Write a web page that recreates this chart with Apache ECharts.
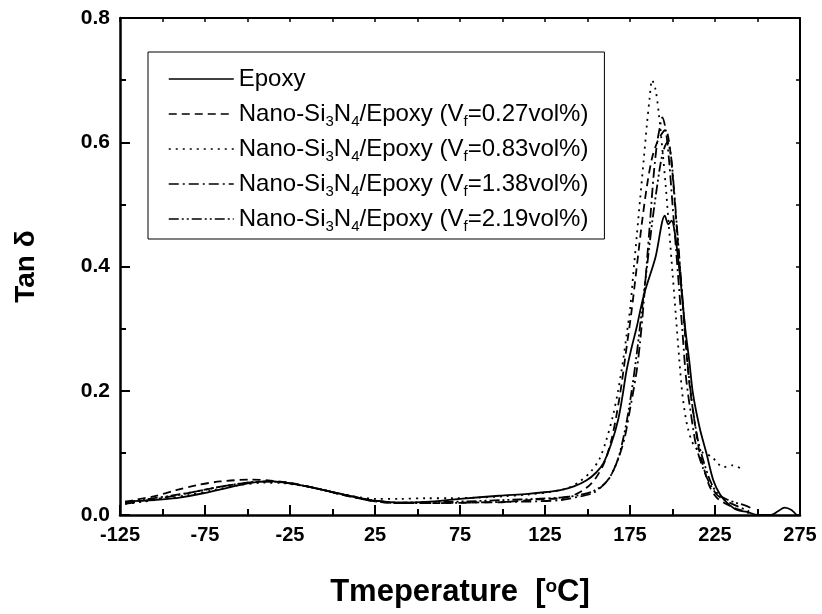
<!DOCTYPE html>
<html>
<head>
<meta charset="utf-8">
<script src="https://cdn.jsdelivr.net/npm/echarts@6/dist/echarts.min.js"></script>
<style>html,body{margin:0;padding:0;background:#fff}#c{width:822px;height:614px}</style>
</head>
<body>
<div id="c"></div>
<script>
var seriesNames = ['Epoxy','Nano-Si3N4/Epoxy (Vf=0.27vol%)','Nano-Si3N4/Epoxy (Vf=0.83vol%)','Nano-Si3N4/Epoxy (Vf=1.38vol%)','Nano-Si3N4/Epoxy (Vf=2.19vol%)'];
var richNames = ['Epoxy','Nano-Si{sub|3}N{sub|4}/Epoxy (V{sub|f}=0.27vol%)','Nano-Si{sub|3}N{sub|4}/Epoxy (V{sub|f}=0.83vol%)','Nano-Si{sub|3}N{sub|4}/Epoxy (V{sub|f}=1.38vol%)','Nano-Si{sub|3}N{sub|4}/Epoxy (V{sub|f}=2.19vol%)'];
var xTicks = [-125,-75,-25,25,75,125,175,225,275];
var yTicks = [0.0,0.2,0.4,0.6,0.8];

var epoxy = [[-122,0.022],[-110,0.023],[-100,0.025],[-90,0.028],[-76,0.035],[-60,0.045],[-45,0.053],[-35,0.054],[-25,0.051],[-15,0.046],[-5,0.040],[5,0.034],[15,0.028],[25,0.023],[40,0.020],[55,0.021],[75,0.026],[98,0.031],[115,0.034],[126,0.037],[134,0.040],[142,0.046],[149.5,0.056],[155,0.068],[159.3,0.083],[164,0.115],[168,0.153],[170.5,0.19],[173,0.233],[176,0.27],[179,0.303],[181.5,0.335],[184,0.362],[190,0.415],[195.5,0.482],[197.5,0.468],[199.5,0.474],[201.5,0.452],[203,0.42],[205,0.37],[207.5,0.30],[210,0.245],[212,0.196],[216,0.14],[220,0.099],[224,0.056],[228,0.033],[232,0.020],[238,0.008],[244,0.005],[250,0.0],[258,0.0],[262,0.006],[266,0.012],[270,0.008],[273,0.0]];
var vf027 = [[-122,0.020],[-115,0.025],[-105,0.030],[-92,0.040],[-80,0.048],[-66,0.054],[-48,0.057],[-35,0.055],[-25,0.052],[-15,0.046],[-5,0.040],[5,0.033],[15,0.027],[25,0.022],[40,0.019],[60,0.019],[80,0.020],[102,0.021],[120,0.025],[134,0.027],[142,0.032],[150,0.045],[155,0.060],[160,0.085],[164,0.120],[167,0.160],[170,0.210],[173,0.270],[176,0.330],[179,0.400],[182,0.470],[185,0.530],[188,0.575],[191,0.600],[194,0.615],[196,0.620],[198,0.600],[200,0.550],[202,0.480],[204,0.410],[206,0.340],[208,0.270],[210,0.210],[213,0.150],[216,0.100],[219,0.070],[222,0.045],[226,0.028],[230,0.020],[236,0.012],[242,0.006],[245,0.003]];
var vf083 = [[-122,0.018],[-110,0.022],[-100,0.026],[-85,0.032],[-70,0.040],[-55,0.048],[-40,0.052],[-28,0.051],[-15,0.046],[-5,0.040],[5,0.034],[15,0.029],[25,0.026],[40,0.026],[55,0.027],[70,0.027],[85,0.028],[100,0.030],[115,0.033],[128,0.037],[138,0.043],[146,0.055],[152,0.070],[157,0.090],[161,0.120],[165,0.160],[168,0.200],[171,0.250],[173,0.290],[175,0.330],[177,0.390],[179,0.450],[181,0.510],[183,0.570],[185,0.630],[186.5,0.670],[188,0.700],[190,0.685],[192,0.645],[194,0.590],[196,0.530],[198,0.460],[200,0.390],[202,0.320],[204,0.250],[206,0.190],[209,0.140],[213,0.110],[218,0.100],[223,0.094],[227,0.082],[230,0.077],[235,0.080],[241,0.074]];
var vf138 = [[-122,0.018],[-110,0.023],[-95,0.030],[-80,0.038],[-65,0.046],[-50,0.052],[-38,0.054],[-28,0.052],[-15,0.046],[-5,0.040],[5,0.033],[15,0.027],[25,0.022],[40,0.019],[60,0.019],[80,0.020],[100,0.021],[120,0.022],[134,0.024],[144,0.029],[153,0.035],[158,0.045],[163,0.060],[168,0.090],[172,0.126],[175,0.170],[177,0.200],[179,0.233],[181,0.280],[183,0.340],[185,0.410],[187,0.480],[189,0.550],[191,0.600],[193,0.630],[194,0.640],[196,0.620],[198,0.570],[200,0.500],[202,0.430],[204,0.360],[206,0.290],[208,0.220],[211,0.160],[214,0.110],[218,0.075],[222,0.050],[226,0.033],[230,0.025],[235,0.018],[240,0.012],[245,0.006]];
var vf219 = [[-122,0.020],[-110,0.025],[-95,0.031],[-80,0.038],[-65,0.046],[-50,0.052],[-38,0.054],[-28,0.052],[-15,0.046],[-5,0.040],[5,0.034],[15,0.028],[25,0.023],[40,0.020],[60,0.021],[80,0.022],[100,0.024],[120,0.026],[134,0.028],[145,0.032],[153,0.038],[160,0.050],[165,0.070],[169,0.100],[173,0.150],[176,0.200],[179,0.260],[182,0.330],[185,0.400],[188,0.470],[191,0.530],[194,0.580],[197,0.600],[199,0.580],[201,0.520],[203,0.450],[205,0.380],[207,0.310],[209,0.240],[212,0.170],[215,0.120],[219,0.080],[223,0.050],[227,0.033],[232,0.025],[237,0.020],[243,0.015],[247,0.010]];

var dataList = [epoxy, vf027, vf083, vf138, vf219];
var dashes = ['solid',[8,5],[2,5],[10,4,2,4],[10,3,2,3,2,3]];

var FONT = '"Liberation Sans", Arial, sans-serif';
var chart = echarts.init(document.getElementById('c'), null, {renderer:'canvas'});
var series = dataList.map(function(d,i){
  return {name: seriesNames[i], type:'line', data:d, symbol:'none', showSymbol:false, smooth:0.3,
    lineStyle:{color:'#000', width:1.8, type:dashes[i]}, itemStyle:{color:'#000'}, z: 3};
});
var option = {
  backgroundColor:'#fff',
  animation:false,
  grid:{left:120, right:22, top:18, bottom:99, containLabel:false},
  legend:{
    orient:'vertical', left:148, top:52, align:'left',
    data: seriesNames,
    itemWidth:65, itemHeight:14, itemGap:5,
    padding:[12,16,5,20],
    borderColor:'#000', borderWidth:1,
    itemStyle:{opacity:0, borderWidth:0},
    lineStyle:{width:1.5},
    formatter:function(n){ return richNames[seriesNames.indexOf(n)]; },
    textStyle:{color:'#000', fontFamily:FONT, fontSize:24, lineHeight:30,
      rich:{sub:{fontSize:15, lineHeight:15, verticalAlign:'bottom', fontFamily:FONT, color:'#000'}}}
  },
  xAxis:[{
    type:'value', min:-125, max:275, interval:50, position:'bottom',
    name:'Tmeperature  [{sup|o}C]', nameLocation:'middle', nameGap:62,
    nameTextStyle:{color:'#000', fontFamily:FONT, fontWeight:'bold', fontSize:31,
      rich:{sup:{fontSize:19, fontWeight:'bold', verticalAlign:'top', lineHeight:19, fontFamily:FONT}}},
    axisLine:{onZero:false, lineStyle:{color:'#000', width:2.5}},
    axisTick:{inside:true, length:10, lineStyle:{color:'#000', width:2}},
    minorTick:{show:true, splitNumber:2, length:6, lineStyle:{color:'#000', width:2}},
    splitLine:{show:false}, minorSplitLine:{show:false},
    axisLabel:{color:'#000', fontFamily:FONT, fontWeight:'bold', fontSize:20, margin:10,
      formatter:function(v){ return xTicks.indexOf(v)>=0 ? String(v) : ''; }}
  },{
    type:'value', min:-125, max:275, interval:25, position:'top',
    axisLine:{onZero:false, lineStyle:{color:'#000', width:2}},
    axisTick:{inside:true, length:4, lineStyle:{color:'#000', width:1.5}},
    axisLabel:{show:false}, splitLine:{show:false}
  }],
  yAxis:[{
    type:'value', min:0, max:0.8, interval:0.2, position:'left',
    name:'Tan δ', nameLocation:'middle', nameGap:80, nameRotate:90,
    nameTextStyle:{color:'#000', fontFamily:FONT, fontWeight:'bold', fontSize:28},
    axisLine:{onZero:false, lineStyle:{color:'#000', width:2.5}},
    axisTick:{inside:true, length:10, lineStyle:{color:'#000', width:2}},
    minorTick:{show:true, splitNumber:2, length:6, lineStyle:{color:'#000', width:2}},
    splitLine:{show:false}, minorSplitLine:{show:false},
    axisLabel:{color:'#000', fontFamily:FONT, fontWeight:'bold', fontSize:21, margin:10,
      formatter:function(v){ return v.toFixed(1); }}
  },{
    type:'value', min:0, max:0.8, interval:0.1, position:'right',
    axisLine:{onZero:false, lineStyle:{color:'#000', width:2}},
    axisTick:{inside:true, length:4, lineStyle:{color:'#000', width:1.5}},
    axisLabel:{show:false}, splitLine:{show:false}
  }],
  series: series
};
chart.setOption(option);
</script>
</body>
</html>
